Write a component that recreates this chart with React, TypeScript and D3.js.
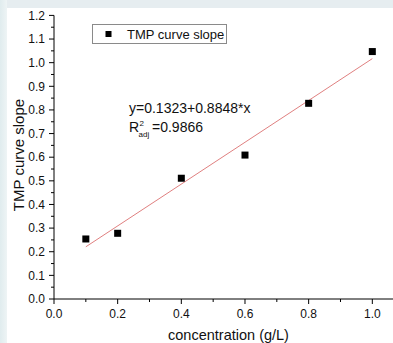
import React from "react";
import * as d3 from "d3";

const concentrations = [0.1, 0.2, 0.4, 0.6, 0.8, 1.0];
const slopes = [0.254, 0.278, 0.511, 0.609, 0.828, 1.047];
const fitIntercept = 0.1323;
const fitSlope = 0.8848;
const xMajorTicks = [0, 0.2, 0.4, 0.6, 0.8, 1.0];
const xMinorTicks = [0.1, 0.3, 0.5, 0.7, 0.9];
const yMajorTicks = [0, 0.1, 0.2, 0.3, 0.4, 0.5, 0.6, 0.7, 0.8, 0.9, 1.0, 1.1, 1.2];
const yMinorTicks = [0.05, 0.15, 0.25, 0.35, 0.45, 0.55, 0.65, 0.75, 0.85, 0.95, 1.05, 1.15];
const legendLabel = "TMP curve slope";
const xTitle = "concentration (g/L)";
const yTitle = "TMP curve slope";

const W = 393;
const H = 343;
const FONT = "'Liberation Sans', Arial, sans-serif";

export default function App() {
  const x = d3.scaleLinear().domain([0, 1.07]).range([54, 394.6]);
  const y = d3.scaleLinear().domain([0, 1.2]).range([299, 15.4]);
  const fit = d3
    .line<number>()
    .x((d) => x(d))
    .y((d) => y(fitIntercept + fitSlope * d));
  const fitXs = [d3.min(concentrations) as number, d3.max(concentrations) as number];
  const fmt = d3.format(".1f");
  const y0 = y(0);
  const x0 = x(0);
  return (
    <svg
      width={W}
      height={H}
      style={{ position: "fixed", left: 0, top: 0, display: "block" }}
      fontFamily={FONT}
    >
      <defs>
        <linearGradient id="leftStrip" x1="0" x2="1" y1="0" y2="0">
          <stop offset="0" stopColor="#e0ecee" />
          <stop offset="1" stopColor="#eef4f5" />
        </linearGradient>
      </defs>
      <rect x={0} y={0} width={W} height={H} fill="#ffffff" />
      <rect x={0} y={0} width={W} height={8} fill="#e6edf0" />
      <rect x={0} y={0} width={7} height={H} fill="url(#leftStrip)" />

      {/* fit line */}
      <path d={fit(fitXs) || ""} stroke="#e08080" strokeWidth={1} fill="none" />

      {/* axes */}
      <line x1={x0} x2={x0} y1={y0} y2={y(1.2)} stroke="#000" strokeWidth={1} />
      <line x1={x0} x2={W} y1={y0} y2={y0} stroke="#000" strokeWidth={1} />

      {yMajorTicks.map((t) => (
        <g key={"ym" + t}>
          <line x1={x0 - 5} x2={x0} y1={y(t)} y2={y(t)} stroke="#000" />
          <text x={x0 - 9} y={y(t)} dy="0.35em" textAnchor="end" fontSize={12} fill="#111">
            {fmt(t)}
          </text>
        </g>
      ))}
      {yMinorTicks.map((t) => (
        <line key={"yn" + t} x1={x0 - 3} x2={x0} y1={y(t)} y2={y(t)} stroke="#000" />
      ))}
      {xMajorTicks.map((t) => (
        <g key={"xm" + t}>
          <line x1={x(t)} x2={x(t)} y1={y0} y2={y0 + 5} stroke="#000" />
          <text x={x(t)} y={y0 + 19} textAnchor="middle" fontSize={12} fill="#111">
            {fmt(t)}
          </text>
        </g>
      ))}
      {xMinorTicks.map((t) => (
        <line key={"xn" + t} x1={x(t)} x2={x(t)} y1={y0} y2={y0 + 3} stroke="#000" />
      ))}

      {/* points */}
      {concentrations.map((c, i) => (
        <rect key={"p" + i} x={x(c) - 3.5} y={y(slopes[i]) - 3.5} width={7} height={7} fill="#000" />
      ))}

      {/* titles */}
      <text x={228.5} y={340} textAnchor="middle" fontSize={14.5} fill="#111">
        {xTitle}
      </text>
      <text
        transform={`translate(23.5,155) rotate(-90)`}
        textAnchor="middle"
        fontSize={15}
        fill="#111"
      >
        {yTitle}
      </text>

      {/* legend */}
      <rect x={92.5} y={24.5} width={134} height={19} fill="#fff" stroke="#8a8a8a" strokeWidth={1} />
      <rect x={105.5} y={31} width={6} height={6} fill="#000" />
      <text x={127} y={39} fontSize={13} fill="#111">
        {legendLabel}
      </text>

      {/* equation */}
      <text x={129} y={113} fontSize={14} fill="#111">
        {`y=${fitIntercept}+${fitSlope}*x`}
      </text>
      <text x={129} y={132} fontSize={14} fill="#111">R</text>
      <text x={139.5} y={125.5} fontSize={8} fill="#111">2</text>
      <text x={138.5} y={136.5} fontSize={8} fill="#111">adj</text>
      <text x={152} y={132} fontSize={14} fill="#111">=0.9866</text>
    </svg>
  );
}
